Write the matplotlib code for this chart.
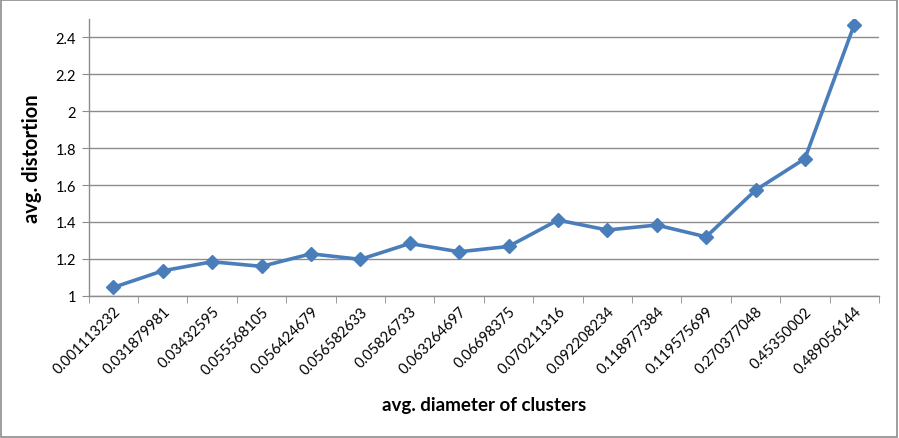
import numpy as np
import matplotlib.pyplot as plt
from matplotlib.patches import Rectangle
from matplotlib.ticker import FixedLocator

plt.rcParams['font.family'] = ['Lato', 'DejaVu Sans']

# data
diameters = ['0.001113232', '0.031879981', '0.03432595', '0.055568105',
             '0.056424679', '0.056582633', '0.05826733', '0.063264697',
             '0.06698375', '0.070211316', '0.092208234', '0.118977384',
             '0.119575699', '0.270377048', '0.45350002', '0.489056144']
distortion = [1.045, 1.135, 1.184, 1.159, 1.227, 1.197, 1.283, 1.238,
              1.267, 1.410, 1.356, 1.383, 1.319, 1.572, 1.743, 2.470]

fig = plt.figure(figsize=(8.99, 4.39), dpi=100)
ax = fig.add_axes([88.7 / 899, 1 - 296.7 / 439, (879 - 88.7) / 899, (296.7 - 20) / 439])

x = np.arange(len(diameters))
ax.plot(x, distortion, color='#4A7EBB', linewidth=2.6, marker='D',
        markersize=7, zorder=3)

ax.set_xlim(-0.5, len(diameters) - 0.5)
ax.set_ylim(1, 2.5)
ax.yaxis.set_major_locator(FixedLocator([1, 1.2, 1.4, 1.6, 1.8, 2, 2.2, 2.4]))
ax.set_yticklabels(['1', '1.2', '1.4', '1.6', '1.8', '2', '2.2', '2.4'])
ax.grid(axis='y', color='#8C8C8C', linewidth=1.0)
ax.set_axisbelow(True)

ax.set_xticks(x)
ax.set_xticklabels(diameters, rotation=45, ha='right', va='top',
                   rotation_mode='anchor', fontsize=10.5)
ax.tick_params(axis='x', which='major', length=0, pad=6)
ax.xaxis.set_minor_locator(FixedLocator(np.arange(-0.5, len(diameters), 1.0)))
ax.tick_params(axis='x', which='minor', length=5, direction='out', color='#8C8C8C')
ax.tick_params(axis='y', length=5, direction='out', color='#8C8C8C',
               labelsize=10.5, pad=4)

for side in ['top', 'right']:
    ax.spines[side].set_visible(False)
for side in ['left', 'bottom']:
    ax.spines[side].set_color('#8C8C8C')
    ax.spines[side].set_linewidth(1.0)

ax.set_xlabel('avg. diameter of clusters', fontsize=13.5, fontweight='bold',
              labelpad=14)
ax.set_ylabel('avg. distortion', fontsize=14.5, fontweight='bold', labelpad=10)

# outer chart border
fig.patches.append(Rectangle((0.001, 0.002), 0.997, 0.995, transform=fig.transFigure,
                             fill=False, edgecolor='#8C8C8C', linewidth=1.2))

fig.savefig('out.png', dpi=100)
